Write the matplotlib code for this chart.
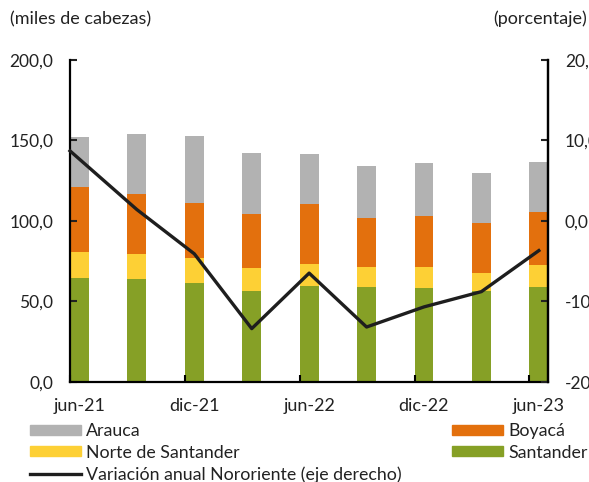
#!/usr/bin/env python3
import numpy as np
import matplotlib
matplotlib.use('Agg')
import matplotlib.pyplot as plt
from matplotlib.ticker import FuncFormatter
from matplotlib.patches import Patch
from matplotlib.lines import Line2D

plt.rcParams['font.family'] = ['Lato', 'DejaVu Sans']

periodos = ['jun-21', 'sep-21', 'dic-21', 'mar-22', 'jun-22',
            'sep-22', 'dic-22', 'mar-23', 'jun-23']

santander = [64.7, 63.9, 61.4, 56.6, 59.7, 59.1, 58.3, 56.6, 59.1]
norte_santander = [15.8, 15.7, 15.7, 14.3, 13.5, 12.4, 13.2, 11.2, 13.3]
boyaca = [40.8, 37.1, 34.0, 33.2, 37.1, 30.1, 31.7, 30.7, 33.1]
arauca = [30.7, 37.5, 41.7, 38.3, 31.5, 32.3, 33.0, 31.5, 31.3]
variacion = [8.7, 1.4, -4.1, -13.4, -6.5, -13.2, -10.7, -8.8, -3.7]

c_arauca = '#B2B2B2'
c_boyaca = '#E3700D'
c_norte = '#FDD035'
c_sant = '#86A026'
c_linea = '#1E1E1E'
c_txt = '#222222'

W, H = 589, 482
fig = plt.figure(figsize=(W / 100, H / 100), dpi=100)
ax = fig.add_axes([70 / W, 1 - 381.7 / H, (548.3 - 70) / W, 321.7 / H])

x = np.arange(len(periodos))
w = 0.33

ax.bar(x, santander, w, color=c_sant)
b = np.array(santander)
ax.bar(x, norte_santander, w, bottom=b, color=c_norte)
b = b + np.array(norte_santander)
ax.bar(x, boyaca, w, bottom=b, color=c_boyaca)
b = b + np.array(boyaca)
ax.bar(x, arauca, w, bottom=b, color=c_arauca)

xl = (-w / 2, len(periodos) - 1 + w / 2)
ax.set_xlim(xl)
ax.set_ylim(0, 200)
ax.set_yticks([0, 50, 100, 150, 200])
fmt = FuncFormatter(lambda v, p: ('%.1f' % v).replace('.', ','))
ax.yaxis.set_major_formatter(fmt)

# marcas cada dos trimestres en el borde de la barra, etiqueta centrada en la barra
ax.set_xticks(x[::2] - w / 2)
ax.set_xticklabels([])
ax.set_xticks(x[::2], periodos[::2], minor=True)
ax.tick_params(axis='x', which='major', direction='in', length=5, width=1.5)
ax.tick_params(axis='x', which='minor', length=0, pad=12, labelsize=13, colors=c_txt)
ax.tick_params(axis='y', direction='in', length=5, width=1.5, pad=12,
               labelsize=12.5, colors=c_txt)

ax.spines['top'].set_visible(False)
for s in ['left', 'bottom', 'right']:
    ax.spines[s].set_linewidth(1.6)

ax2 = ax.twinx()
xs = x.astype(float)
xs[0] = xl[0]
ax2.plot(xs, variacion, color=c_linea, lw=2.4, solid_joinstyle='round', clip_on=False)
ax2.set_ylim(-20, 20)
ax2.set_yticks([-20, -10, 0, 10, 20])
ax2.yaxis.set_major_formatter(fmt)
ax2.tick_params(axis='y', direction='in', length=5, width=1.5, pad=12,
                labelsize=12.5, colors=c_txt)
ax2.spines['top'].set_visible(False)
ax2.spines['right'].set_linewidth(1.6)
ax2.spines['left'].set_visible(False)
ax2.spines['bottom'].set_visible(False)
ax.set_zorder(1)
ax2.set_zorder(2)

fig.text(10 / W, 1 - 19 / H, '(miles de cabezas)', fontsize=13, va='center', ha='left', color=c_txt)
fig.text(587 / W, 1 - 19 / H, '(porcentaje)', fontsize=13, va='center', ha='right', color=c_txt)

leg_kw = dict(frameon=False, fontsize=12.8, handleheight=0.5, handlelength=2.85,
              handletextpad=0.3, labelspacing=0.32, borderpad=0, borderaxespad=0)
h1 = [Patch(color=c_arauca), Patch(color=c_norte), Line2D([], [], color=c_linea, lw=2.4)]
l1 = ['Arauca', 'Norte de Santander', 'Variación anual Nororiente (eje derecho)']
leg1 = fig.legend(h1, l1, loc='upper left', bbox_to_anchor=(30 / W, 1 - 423 / H), **leg_kw)
for t in leg1.get_texts():
    t.set_color(c_txt)
h2 = [Patch(color=c_boyaca), Patch(color=c_sant)]
l2 = ['Boyacá', 'Santander']
leg2 = fig.legend(h2, l2, loc='upper left', bbox_to_anchor=(452 / W, 1 - 423 / H), **leg_kw)
for t in leg2.get_texts():
    t.set_color(c_txt)

fig.savefig('out.png', dpi=100)
